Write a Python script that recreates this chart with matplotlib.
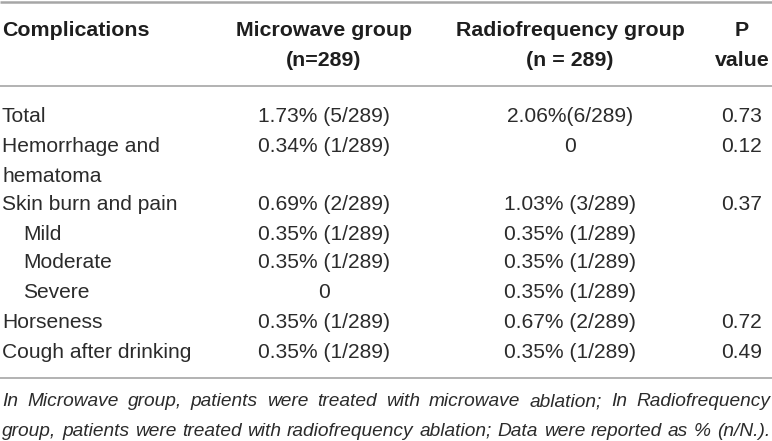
import matplotlib.pyplot as plt

# table content
header_1 = ["Complications", "Microwave group", "Radiofrequency group", "P"]
header_2 = ["", "(n=289)", "(n = 289)", "value"]

row_labels = ["Total", "Hemorrhage and\nhematoma", "Skin burn and pain", "Mild",
              "Moderate", "Severe", "Horseness", "Cough after drinking"]
indented = [False, False, False, True, True, True, False, False]
microwave = ["1.73% (5/289)", "0.34% (1/289)", "0.69% (2/289)", "0.35% (1/289)",
             "0.35% (1/289)", "0", "0.35% (1/289)", "0.35% (1/289)"]
radiofreq = ["2.06%(6/289)", "0", "1.03% (3/289)", "0.35% (1/289)",
             "0.35% (1/289)", "0.35% (1/289)", "0.67% (2/289)", "0.35% (1/289)"]
p_values = ["0.73", "0.12", "0.37", "", "", "", "0.72", "0.49"]

footnote = ["In Microwave group, patients were treated with microwave ablation; In Radiofrequency",
            "group, patients were treated with radiofrequency ablation; Data were reported as % (n/N.)."]

W, H = 772, 441
fig = plt.figure(figsize=(W / 100, H / 100), dpi=100)
ax = fig.add_axes([0, 0, 1, 1])
ax.set_xlim(0, W)
ax.set_ylim(H, 0)
ax.axis("off")

font = "Liberation Sans"
fs = 15.1
fs_bold = 15.4
col_x = [2, 324, 570, 742]
line_col = "#a6a6a6"
txt_col = "#2b2b2b"

# rules
for y, lw in [(1.5, 1.8), (86, 1.2), (378, 1.2)]:
    ax.plot([0, W], [y, y], color=line_col, lw=lw, solid_capstyle="butt")

# header
for i, (h1, h2) in enumerate(zip(header_1, header_2)):
    ha = "left" if i == 0 else "center"
    ax.text(col_x[i], 29, h1, ha=ha, va="center_baseline", fontsize=fs_bold, fontweight="bold",
            family=font, color="#1e1e1e")
    if h2:
        ax.text(col_x[i], 59, h2, ha=ha, va="center_baseline", fontsize=fs_bold, fontweight="bold",
                family=font, color="#1e1e1e")

# body rows
row_y = [114, 144, 203, 232, 261, 291, 321, 351]
for y, lab, ind, mw, rf, p in zip(row_y, row_labels, indented, microwave, radiofreq, p_values):
    for k, part in enumerate(lab.split("\n")):
        ax.text(col_x[0] + (21 if ind else 0), y + 30 * k, part, ha="left", va="center_baseline",
                fontsize=fs, family=font, color=txt_col)
    ax.text(col_x[1], y, mw, ha="center", va="center_baseline", fontsize=fs, family=font, color=txt_col)
    ax.text(col_x[2], y, rf, ha="center", va="center_baseline", fontsize=fs, family=font, color=txt_col)
    if p:
        ax.text(col_x[3], y, p, ha="center", va="center_baseline", fontsize=fs, family=font, color=txt_col)

# footnote, justified between x0 and x1
renderer = fig.canvas.get_renderer()
x0, x1 = 2, 770


def text_width(s, size):
    t = ax.text(0, 0, s, fontsize=size, style="italic", family=font)
    bb = t.get_window_extent(renderer)
    t.remove()
    return bb.width


# size so that the last line fills the width
fs_note = 14.0
fs_note = fs_note * (x1 - x0) / text_width(footnote[1], fs_note)

for k, line in enumerate(footnote):
    words = line.split(" ")
    widths = [text_width(w, fs_note) for w in words]
    gap = ((x1 - x0) - sum(widths)) / (len(words) - 1)
    x = x0
    for w, wd in zip(words, widths):
        ax.text(x, 400 + 29 * k, w, ha="left", va="center_baseline", fontsize=fs_note,
                style="italic", family=font, color=txt_col)
        x += wd + gap

fig.savefig("out.png", dpi=100)
